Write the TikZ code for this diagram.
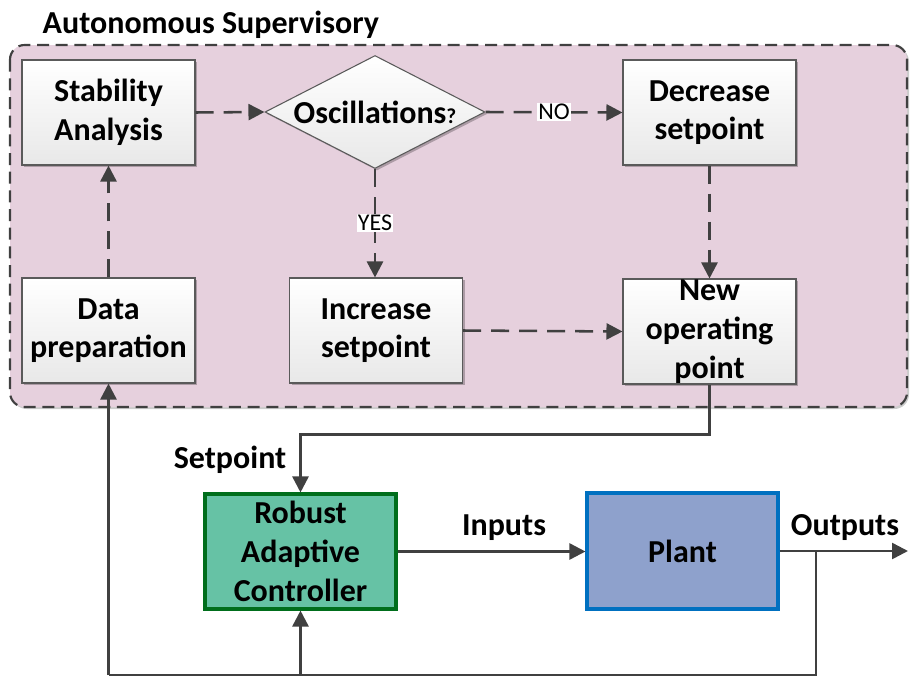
\documentclass[tikz,border=0pt]{standalone}
\usepackage{fontspec}
\setmainfont{Carlito}
\usetikzlibrary{arrows.meta,shapes.geometric,shadows}
\definecolor{linec}{HTML}{404040}
\definecolor{boxline}{HTML}{5A5A5A}
\definecolor{supfill}{HTML}{E6D0DD}
\definecolor{ctrlfill}{HTML}{66C2A5}
\definecolor{ctrlline}{HTML}{006E1C}
\definecolor{plantfill}{HTML}{8EA1CC}
\definecolor{plantline}{HTML}{0070C0}
\tikzset{
  bigtext/.style={font=\bfseries\fontsize{24}{29}\selectfont},
  softshadow/.style={drop shadow={shadow xshift=1.5pt,shadow yshift=-1.5pt,opacity=0.25,fill=black}},
  flowbox/.style={bigtext, draw=boxline, line width=0.8pt, top color=white, bottom color=black!9,
    minimum width=173*0.75pt, minimum height=105*0.75pt, align=center, inner sep=0pt, softshadow},
  decision/.style={bigtext, diamond, aspect=1.95, draw=boxline, line width=0.8pt, top color=white, bottom color=black!9,
    minimum width=220*0.75pt, minimum height=113*0.75pt, inner sep=0pt, softshadow},
  ctrlbox/.style={bigtext, draw=ctrlline, fill=ctrlfill, line width=2.3pt, minimum width=191*0.75pt,
    minimum height=115*0.75pt, align=center, inner sep=0pt},
  plantbox/.style={bigtext, draw=plantline, fill=plantfill, line width=2.3pt, minimum width=191*0.75pt,
    minimum height=116*0.75pt, align=center, inner sep=0pt},
  tipped/.style={-{Triangle[length=12pt,width=12pt]}},
  dasharrow/.style={draw=linec, line width=1.9pt, dash pattern=on 13.5pt off 7.5pt, tipped},
  solidarrow/.style={draw=linec, line width=1.9pt, tipped},
  solidline/.style={draw=linec, line width=1.9pt},
  smalllabel/.style={font=\fontsize{18}{20}\selectfont, fill=white, inner sep=1pt},
  sigtext/.style={bigtext},
}
\begin{document}
\begin{tikzpicture}[x=0.75pt,y=-0.75pt]
\useasboundingbox (0,0) rectangle (910,678);

% supervisory container
\draw[draw=linec, line width=1.6pt, dash pattern=on 9pt off 5pt, fill=supfill, rounded corners=11pt,
  drop shadow={shadow xshift=1.5pt,shadow yshift=-1.5pt,opacity=0.2,fill=black}]
  (10,45) rectangle (907,407);
\node[bigtext, anchor=base west] (title) at (38,33) {Autonomous Supervisory};

% flow boxes
\node[flowbox] (stab) at (108.5,112.5) {Stability\\Analysis};
\node[decision] (osc) at (375,112) {Oscillations{\fontsize{16}{18}\selectfont ?}};
\node[flowbox] (dec) at (709.5,112.5) {Decrease\\setpoint};
\node[flowbox] (data) at (108.5,330.5) {Data\\preparation};
\node[flowbox] (inc) at (376,330.5) {Increase\\setpoint};
\node[flowbox] (newop) at (709.5,331.5) {New\\operating\\point};

% dashed connectors
\draw[dasharrow] (stab.east) -- (osc.west);
\draw[dasharrow] (osc.east) -- node[smalllabel] (no) {NO} (dec.west);
\draw[dasharrow] (osc.south) -- node[smalllabel] (yes) {YES} (osc.south |- inc.north);
\draw[dasharrow] (dec.south) -- (newop.north);
\draw[dasharrow] (inc.east) -- (newop.west);
\draw[dasharrow] (data.north) -- (stab.south);

% lower loop
\node[ctrlbox] (ctrl) at (300.5,551.5) {Robust\\Adaptive\\Controller};
\node[plantbox] (plant) at (682.5,551) {Plant};

\coordinate (tap) at (816,551);
\coordinate (outend) at (908,551);
\coordinate (br) at (816,675);
\coordinate (bm) at (300.5,675);
\coordinate (bl) at (108.5,675);

\draw[solidarrow] (newop.south) -- ++(0,50) -| (ctrl.north);
\draw[solidarrow] (ctrl.east) -- (ctrl.east -| plant.west);
\draw[solidarrow] (plant.east) -- (outend);
\draw[solidline] (tap) -- (br) -- (bl);
\draw[solidarrow] (bl) -- (data.south);
\draw[solidarrow] (bm) -- (ctrl.south);

\node[sigtext] (setlbl) at (230,460) {Setpoint};
\node[sigtext] (inlbl) at (504,528) {Inputs};
\node[sigtext] (outlbl) at (845,528) {Outputs};
\end{tikzpicture}
\end{document}
